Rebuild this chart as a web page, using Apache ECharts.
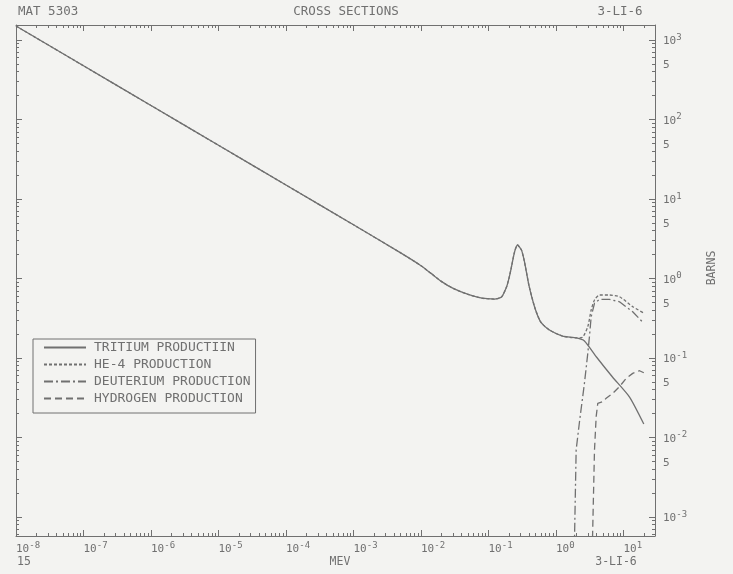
<!DOCTYPE html>
<html>
<head>
<meta charset="utf-8">
<script src="https://cdn.jsdelivr.net/npm/echarts@6/dist/echarts.min.js"></script>
<style>
  html, body { margin: 0; padding: 0; background: #f3f3f1; }
  #chart { width: 733px; height: 574px; }
</style>
</head>
<body>
<div id="chart"></div>
<script>
// Li-6 neutron production cross sections. Energies in MeV, cross sections in barns.
const tritiumEnergy = [1e-8, 1e-7, 1e-6, 1e-5, 1e-4, 1e-3, 0.005, 0.01, 0.0141, 0.02, 0.03, 0.05, 0.08, 0.123, 0.156, 0.185, 0.202, 0.219, 0.243, 0.269, 0.308, 0.34, 0.40, 0.49, 0.60, 0.80, 1.25, 2.01, 2.64, 3.98, 6.87, 12.3, 20];
const tritiumSigma  = [1500, 474, 150, 47.4, 15.0, 4.74, 2.10, 1.45, 1.16, 0.92, 0.75, 0.63, 0.565, 0.552, 0.585, 0.782, 1.02, 1.40, 2.15, 2.64, 2.28, 1.65, 0.80, 0.42, 0.28, 0.225, 0.189, 0.179, 0.164, 0.103, 0.0577, 0.0323, 0.0148];

const he4Energy = [1e-8, 1e-7, 1e-6, 1e-5, 1e-4, 1e-3, 0.005, 0.01, 0.0141, 0.02, 0.03, 0.05, 0.08, 0.123, 0.156, 0.185, 0.202, 0.219, 0.243, 0.269, 0.308, 0.34, 0.40, 0.49, 0.60, 0.80, 1.25, 2.01, 2.47, 2.96, 3.32, 3.72, 4.41, 6.21, 8.73, 13.7, 20];
const he4Sigma  = [1500, 474, 150, 47.4, 15.0, 4.74, 2.10, 1.45, 1.16, 0.92, 0.75, 0.63, 0.565, 0.552, 0.585, 0.782, 1.02, 1.40, 2.15, 2.64, 2.28, 1.65, 0.80, 0.42, 0.28, 0.225, 0.189, 0.179, 0.182, 0.248, 0.402, 0.537, 0.620, 0.620, 0.590, 0.442, 0.368];

const deuteriumEnergy = [1.87, 1.99, 2.23, 2.64, 2.96, 3.13, 3.32, 3.72, 4.41, 6.21, 8.73, 13.7, 20];
const deuteriumSigma  = [0.0004, 0.00697, 0.0158, 0.0481, 0.1146, 0.185, 0.330, 0.488, 0.547, 0.547, 0.510, 0.382, 0.273];

const hydrogenEnergy = [3.45, 3.72, 3.94, 4.16, 4.41, 4.93, 5.54, 6.93, 8.73, 10.96, 13.7, 17.3, 20];
const hydrogenSigma  = [0.0004, 0.00697, 0.0183, 0.0269, 0.0282, 0.0282, 0.0311, 0.0360, 0.0436, 0.0556, 0.0641, 0.0692, 0.0653];

// Axis decades (powers of ten) that carry labels
const energyDecades = [-8, -7, -6, -5, -4, -3, -2, -1, 0, 1];
const sigmaDecades = [-3, -2, -1, 0, 1, 2, 3];

const seriesNames = ['TRITIUM PRODUCTIIN', 'HE-4 PRODUCTION', 'DEUTERIUM PRODUCTION', 'HYDROGEN PRODUCTION'];

const FONT = '"DejaVu Sans Mono", "Liberation Mono", monospace';
const INK = '#707070';

// Axis extents in log10 units
const X_MIN = -8, X_MAX = 1.467;
const Y_MIN = -3.239, Y_MAX = 3.189;

const lg = Math.log10;
const toPairs = (es, ss) => es.map((e, i) => [lg(e), lg(ss[i])]);

function logMinor(lo, hi) {
  const out = [];
  for (let n = Math.floor(lo) - 1; n <= Math.ceil(hi); n++) {
    for (let k = 2; k <= 9; k++) {
      const v = n + lg(k);
      if (v >= lo && v <= hi) out.push(v);
    }
  }
  return out;
}
const xMinor = logMinor(X_MIN, X_MAX);
const yMinor = logMinor(Y_MIN, Y_MAX);
const yLabelValues = [];
sigmaDecades.forEach(n => {
  yLabelValues.push(n);
  const f = n + lg(5);
  if (f <= Y_MAX) yLabelValues.push(f);
});

const lineAxis = { show: true, onZero: false, lineStyle: { color: INK, width: 1 } };
const noLine = { show: false, onZero: false };
const expRich = {
  b: { fontFamily: FONT, fontSize: 11, color: INK, verticalAlign: 'bottom', lineHeight: 14 },
  s: { fontFamily: FONT, fontSize: 9, color: INK, verticalAlign: 'top', lineHeight: 14 }
};

const grid = { left: 16, right: 78, top: 25, bottom: 38, containLabel: false };

function xAxisDef(gridIndex, position, ticks, len, withLine, withLabels) {
  return {
    gridIndex, position, type: 'value', min: X_MIN, max: X_MAX,
    axisLine: withLine ? lineAxis : noLine,
    axisTick: { show: true, inside: true, length: len, customValues: ticks, lineStyle: { color: INK, width: 1 } },
    axisLabel: withLabels ? {
      show: true, customValues: energyDecades, align: 'left', margin: 5,
      formatter: v => '{b|10}{s|' + Math.round(v) + '}', rich: expRich
    } : { show: false },
    splitLine: { show: false }
  };
}
function yAxisDef(gridIndex, position, ticks, len, withLine, withLabels) {
  return {
    gridIndex, position, type: 'value', min: Y_MIN, max: Y_MAX,
    axisLine: withLine ? lineAxis : noLine,
    axisTick: { show: true, inside: true, length: len, customValues: ticks, lineStyle: { color: INK, width: 1 } },
    axisLabel: withLabels ? {
      show: true, customValues: yLabelValues, align: 'left', margin: 8,
      formatter: v => {
        const n = Math.round(v);
        return Math.abs(v - n) < 1e-6 ? '{b|10}{s|' + n + '}' : '{b|5}';
      },
      rich: expRich
    } : { show: false },
    splitLine: { show: false }
  };
}

function lineSeries(name, data, type, z, smooth) {
  return {
    name, type: 'line', data, symbol: 'none', showSymbol: false,
    xAxisIndex: 0, yAxisIndex: 0, z, color: INK,
    smooth: smooth,
    lineStyle: { color: INK, width: 1.3, type },
    animation: false, silent: true
  };
}

const chart = echarts.init(document.getElementById('chart'), null, { renderer: 'canvas' });
chart.setOption({
  backgroundColor: '#f3f3f1',
  animation: false,
  grid: [grid, Object.assign({}, grid)],
  xAxis: [
    xAxisDef(0, 'bottom', energyDecades, 6, true, true),
    xAxisDef(0, 'top', energyDecades, 6, true, false),
    xAxisDef(1, 'bottom', xMinor, 3, false, false),
    xAxisDef(1, 'top', xMinor, 3, false, false)
  ],
  yAxis: [
    yAxisDef(0, 'right', sigmaDecades, 6, true, true),
    yAxisDef(0, 'left', sigmaDecades, 6, true, false),
    yAxisDef(1, 'right', yMinor, 3, false, false),
    yAxisDef(1, 'left', yMinor, 3, false, false)
  ],
  legend: {
    orient: 'vertical', left: 33, top: 339,
    itemWidth: 42, itemHeight: 12, itemGap: 4,
    padding: [2, 5, 8, 10],
    borderColor: INK, borderWidth: 1,
    itemStyle: { opacity: 0 },
    textStyle: { fontFamily: FONT, fontSize: 13, color: INK, padding: [0, 0, 0, 3] },
    data: seriesNames,
    selectedMode: false
  },
  series: [
    lineSeries(seriesNames[1], toPairs(he4Energy, he4Sigma), [3, 2], 2, 0.2),
    lineSeries(seriesNames[2], toPairs(deuteriumEnergy, deuteriumSigma), [9, 3, 2, 3], 3, false),
    lineSeries(seriesNames[3], toPairs(hydrogenEnergy, hydrogenSigma), [7, 4], 3, false),
    lineSeries(seriesNames[0], toPairs(tritiumEnergy, tritiumSigma), 'solid', 4, 0.2)
  ],
  graphic: [
    { type: 'text', x: 18, y: 12, style: { text: 'MAT 5303', fill: INK, fontFamily: FONT, fontSize: 12.5, align: 'left', verticalAlign: 'middle' } },
    { type: 'text', x: 346, y: 12, style: { text: 'CROSS SECTIONS', fill: INK, fontFamily: FONT, fontSize: 12.5, align: 'center', verticalAlign: 'middle' } },
    { type: 'text', x: 620, y: 12, style: { text: '3-LI-6', fill: INK, fontFamily: FONT, fontSize: 12.5, align: 'center', verticalAlign: 'middle' } },
    { type: 'text', x: 17, y: 562, style: { text: '15', fill: INK, fontFamily: FONT, fontSize: 11.5, align: 'left', verticalAlign: 'middle' } },
    { type: 'text', x: 340, y: 562, style: { text: 'MEV', fill: INK, fontFamily: FONT, fontSize: 11.5, align: 'center', verticalAlign: 'middle' } },
    { type: 'text', x: 616, y: 562, style: { text: '3-LI-6', fill: INK, fontFamily: FONT, fontSize: 11.5, align: 'center', verticalAlign: 'middle' } },
    { type: 'text', x: 712, y: 268, rotation: Math.PI / 2, style: { text: 'BARNS', fill: INK, fontFamily: FONT, fontSize: 11.5, align: 'center', verticalAlign: 'middle' } }
  ]
});
</script>
</body>
</html>
